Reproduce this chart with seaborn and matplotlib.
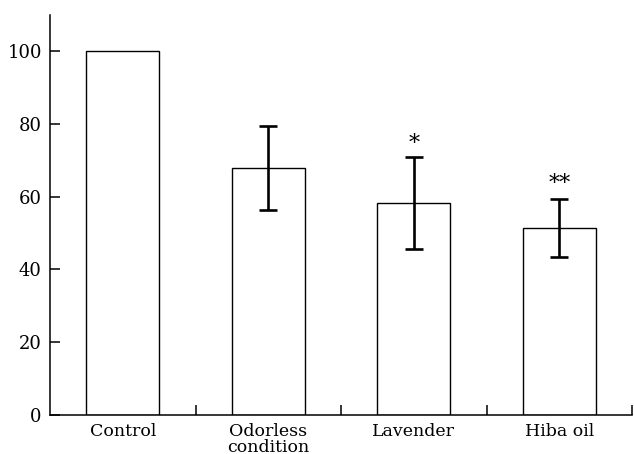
import matplotlib
matplotlib.use("Agg")
import matplotlib.pyplot as plt
import seaborn as sns
import pandas as pd

categories = ["Control", "Odorless\ncondition", "Lavender", "Hiba oil"]
values = [100.0, 67.8, 58.2, 51.4]
errors = [0.0, 11.5, 12.7, 8.0]
marks = ["", "", "*", "**"]
mark_y = [0, 0, 74.6, 63.5]
yticks = [0, 20, 40, 60, 80, 100]

sns.set_theme(style="ticks")
plt.rcParams["font.family"] = ["DejaVu Serif"]
plt.rcParams["text.color"] = "black"
plt.rcParams["xtick.color"] = "black"
plt.rcParams["ytick.color"] = "black"
plt.rcParams["xtick.labelcolor"] = "black"
plt.rcParams["ytick.labelcolor"] = "black"

df = pd.DataFrame({"cat": categories, "val": values})

fig = plt.figure(figsize=(6.34, 4.54), dpi=100)
ax = fig.add_axes([0.079, 0.087, 0.918, 0.88])

sns.barplot(data=df, x="cat", y="val", color="white", edgecolor="black",
            linewidth=1.0, width=0.5, ax=ax, errorbar=None)

for i, (v, e) in enumerate(zip(values, errors)):
    if e > 0:
        ax.errorbar(i, v, yerr=e, fmt="none", ecolor="black", elinewidth=1.9,
                    capsize=6.5, capthick=1.9, zorder=5)
    if marks[i]:
        ax.text(i, mark_y[i], marks[i], ha="center", va="center",
                fontsize=16, color="black")

ax.set_xlim(-0.5, 3.5)
ax.set_ylim(0, 110)
ax.set_yticks(yticks)
ax.set_yticklabels([str(t) for t in yticks], fontsize=13)
ax.set_xticks([0.5, 1.5, 2.5, 3.5], minor=True)
ax.set_xticks(range(len(categories)))
ax.set_xticklabels(categories, fontsize=12.5, linespacing=0.9)
ax.tick_params(axis="x", which="major", length=0, pad=6)
ax.tick_params(axis="x", which="minor", direction="in", length=7, width=1.1)
ax.tick_params(axis="y", direction="in", length=7, width=1.1, pad=6)
ax.set_xlabel("")
ax.set_ylabel("")
for s in ["top", "right"]:
    ax.spines[s].set_visible(False)
for s in ["left", "bottom"]:
    ax.spines[s].set_linewidth(1.1)
    ax.spines[s].set_color("black")

fig.savefig("out.png", dpi=100, facecolor="white")
